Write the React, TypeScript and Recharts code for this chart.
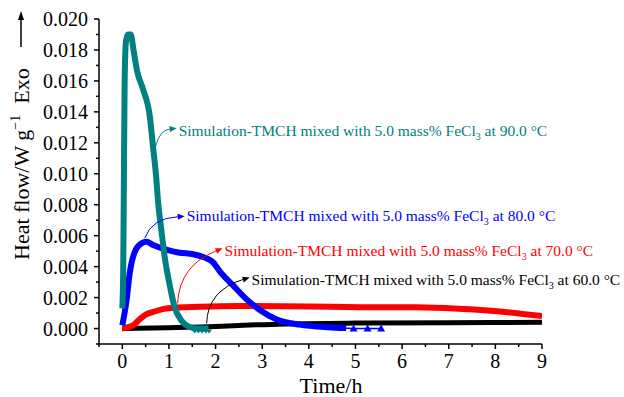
import { LineChart, Line, XAxis, YAxis, ReferenceDot } from 'recharts';

// heat flow (W/g) vs time (h)
const black60 = [
  { t: 0, v: 0 },
  { t: 1, v: 0.00005 },
  { t: 1.7, v: 0.0001 },
  { t: 2.5, v: 0.0002 },
  { t: 3.5, v: 0.0003 },
  { t: 5, v: 0.00035 },
  { t: 7, v: 0.00037 },
  { t: 9, v: 0.0004 },
];

const red70 = [
  { t: 0, v: 0 },
  { t: 0.23, v: 0.0002 },
  { t: 0.37, v: 0.0006 },
  { t: 0.5, v: 0.0009 },
  { t: 0.7, v: 0.0011 },
  { t: 0.94, v: 0.0013 },
  { t: 1.66, v: 0.0014 },
  { t: 2.5, v: 0.00145 },
  { t: 4, v: 0.00142 },
  { t: 5.1, v: 0.00138 },
  { t: 6.3, v: 0.00137 },
  { t: 7.2, v: 0.00128 },
  { t: 8.1, v: 0.0011 },
  { t: 9, v: 0.0008 },
];

const blue80 = [
  { t: 0, v: 0.0002 },
  { t: 0.09, v: 0.0018 },
  { t: 0.16, v: 0.0036 },
  { t: 0.26, v: 0.0049 },
  { t: 0.41, v: 0.0055 },
  { t: 0.52, v: 0.0056 },
  { t: 0.66, v: 0.0054 },
  { t: 0.94, v: 0.0051 },
  { t: 1.23, v: 0.0049 },
  { t: 1.52, v: 0.0048 },
  { t: 1.75, v: 0.0046 },
  { t: 1.94, v: 0.0043 },
  { t: 2.09, v: 0.0037 },
  { t: 2.37, v: 0.0028 },
  { t: 2.66, v: 0.0019 },
  { t: 2.95, v: 0.0012 },
  { t: 3.3, v: 0.0006 },
  { t: 3.8, v: 0.00025 },
  { t: 4.4, v: 0.00008 },
  { t: 4.8, v: 0.00003 },
];

const blueTail = [
  { t: 4.7, v: 0.00003 },
  { t: 4.96, v: 0 },
  { t: 5.26, v: 0 },
  { t: 5.55, v: 0 },
];

const teal90 = [
  { t: 0, v: 0.0013 },
  { t: 0.02, v: 0.004 },
  { t: 0.035, v: 0.01 },
  { t: 0.05, v: 0.016 },
  { t: 0.08, v: 0.0186 },
  { t: 0.12, v: 0.019 },
  { t: 0.18, v: 0.019 },
  { t: 0.24, v: 0.018 },
  { t: 0.32, v: 0.0166 },
  { t: 0.44, v: 0.0155 },
  { t: 0.59, v: 0.0137 },
  { t: 0.66, v: 0.0117 },
  { t: 0.72, v: 0.01 },
  { t: 0.77, v: 0.0081 },
  { t: 0.84, v: 0.0063 },
  { t: 0.91, v: 0.0046 },
  { t: 1.01, v: 0.0029 },
  { t: 1.12, v: 0.0014 },
  { t: 1.27, v: 0.0005 },
  { t: 1.44, v: 0.0001 },
  { t: 1.6, v: 0 },
  { t: 1.85, v: 0 },
];

const tealTail = [
  { t: 1.55, v: 0 },
  { t: 1.63, v: 0 },
  { t: 1.71, v: 0 },
  { t: 1.79, v: 0 },
  { t: 1.86, v: 0 },
];

const xTicks = [-0.5, 0, 0.5, 1, 1.5, 2, 2.5, 3, 3.5, 4, 4.5, 5, 5.5, 6, 6.5, 7, 7.5, 8, 8.5, 9];
const yTicks = [
  -0.001, 0, 0.001, 0.002, 0.003, 0.004, 0.005, 0.006, 0.007, 0.008, 0.009, 0.01,
  0.011, 0.012, 0.013, 0.014, 0.015, 0.016, 0.017, 0.018, 0.019, 0.02,
];

const notes = [
  { temp: '90.0', color: '#008080', t: 1.165, v: 0.01294, tail: [-21, 18], ctrl: [-17, 2], ty: 8 },
  { temp: '80.0', color: '#0000ff', t: 1.337, v: 0.00725, tail: [-40, 22], ctrl: [-33, 2], ty: 5 },
  { temp: '70.0', color: '#ff0000', t: 2.15, v: 0.00518, tail: [-45, 55], ctrl: [-43, 17], ty: 8 },
  { temp: '60.0', color: '#000000', t: 2.73, v: 0.0033, tail: [-43, 46], ctrl: [-42, 13], ty: 8 },
];

const serif = { fontFamily: "'Times New Roman', 'Liberation Serif', Times, serif" };

const XTick = (props: any) => {
  const { x, y, payload } = props;
  const major = Number.isInteger(payload.value);
  return (
    <g>
      <line x1={x} x2={x} y1={y} y2={y + (major ? 5 : 3)} stroke="#000" strokeWidth={1.5} />
      {major && (
        <text x={x} y={y + 24} textAnchor="middle" fontSize={20} style={serif} fill="#000">
          {payload.value}
        </text>
      )}
    </g>
  );
};

const YTick = (props: any) => {
  const { x, y, payload } = props;
  const n = Math.round(payload.value * 1000);
  const major = n >= 0 && n % 2 === 0;
  return (
    <g>
      <line x1={x - (major ? 5 : 3)} x2={x} y1={y} y2={y} stroke="#000" strokeWidth={1.5} />
      {major && (
        <text x={x - 11} y={y + 7} textAnchor="end" fontSize={20} style={serif} fill="#000">
          {payload.value.toFixed(3)}
        </text>
      )}
    </g>
  );
};

const YTitle = (props: any) => {
  const vb = props.viewBox;
  const x = vb.x + 29;
  const y = vb.y + 241;
  return (
    <g transform={`translate(${x},${y}) rotate(-90)`}>
      <text x={0} y={0} fontSize={22} style={serif} fill="#000">
        Heat flow/W g
        <tspan fontSize={14} dy={-9}>−1</tspan>
        <tspan dy={9}>{'\u00a0\u00a0Exo'}</tspan>
      </text>
      <line x1={213} x2={242} y1={-8} y2={-8} stroke="#000" strokeWidth={1.5} />
      <path d="M249,-8 L240,-11 L240,-5 Z" fill="#000" />
    </g>
  );
};

const XTitle = (props: any) => {
  const vb = props.viewBox;
  return (
    <text x={vb.x + 232} y={vb.y + 49} textAnchor="middle" fontSize={22} style={serif} fill="#000">
      Time/h
    </text>
  );
};

const Triangle = (props: any) => {
  const { cx, cy, fill } = props;
  if (cx == null || cy == null) return null;
  return <path d={`M${cx},${cy - 4} L${cx + 4},${cy + 3} L${cx - 4},${cy + 3} Z`} fill={fill} />;
};

const DownTriangle = (props: any) => {
  const { cx, cy, fill } = props;
  if (cx == null || cy == null) return null;
  return <path d={`M${cx - 3},${cy + 1} L${cx + 3},${cy + 1} L${cx},${cy + 5} Z`} fill={fill} />;
};

const noteShape = (n: typeof notes[number]) => (props: any) => {
  const { cx, cy } = props;
  const sx = cx + n.tail[0];
  const sy = cy + n.tail[1];
  const qx = cx + n.ctrl[0];
  const qy = cy + n.ctrl[1];
  const a = Math.atan2(cy - qy, cx - qx);
  const L = 7;
  const W = 3;
  const bx = cx - L * Math.cos(a);
  const by = cy - L * Math.sin(a);
  const p1x = bx + W * Math.sin(a);
  const p1y = by - W * Math.cos(a);
  const p2x = bx - W * Math.sin(a);
  const p2y = by + W * Math.cos(a);
  return (
    <g>
      <path d={`M${sx},${sy} Q${qx},${qy} ${bx},${by}`} fill="none" stroke={n.color} strokeWidth={1} />
      <path d={`M${cx},${cy} L${p1x},${p1y} L${p2x},${p2y} Z`} fill={n.color} />
      <text x={cx + 2} y={cy + n.ty} fontSize={15.5} style={serif} fill={n.color}>
        Simulation-TMCH mixed with 5.0 mass% FeCl
        <tspan fontSize={10} dy={4}>3</tspan>
        <tspan dy={-4}>{` at ${n.temp} °C`}</tspan>
      </text>
    </g>
  );
};

export default function App() {
  return (
    <div style={{ position: 'absolute', left: 0, top: 0, background: '#fff' }}>
      <LineChart width={624} height={397} margin={{ top: 19, right: 82, bottom: 0, left: 0 }}>
        <XAxis
          dataKey="t"
          type="number"
          domain={[-0.5, 9]}
          ticks={xTicks}
          interval={0}
          tickSize={0}
          tickMargin={0}
          tickLine={false}
          tick={<XTick />}
          height={53}
          allowDataOverflow
          axisLine={{ stroke: '#000', strokeWidth: 1.5 }}
          label={{ content: XTitle }}
        />
        <YAxis
          type="number"
          domain={[-0.001, 0.02]}
          ticks={yTicks}
          interval={0}
          tickSize={0}
          tickMargin={0}
          tickLine={false}
          tick={<YTick />}
          width={99}
          allowDataOverflow
          axisLine={{ stroke: '#000', strokeWidth: 1.5 }}
          label={{ content: YTitle }}
        />
        <Line data={black60} dataKey="v" type="monotone" stroke="#000" strokeWidth={5} dot={false} isAnimationActive={false} />
        <Line data={red70} dataKey="v" type="monotone" stroke="#ff0000" strokeWidth={6} dot={false} isAnimationActive={false} />
        <Line data={blueTail} dataKey="v" type="linear" stroke="#0000ff" strokeWidth={1.5} dot={<Triangle fill="#0000ff" />} isAnimationActive={false} />
        <Line data={blue80} dataKey="v" type="monotone" stroke="#0000ff" strokeWidth={6} dot={false} isAnimationActive={false} />
        <Line data={teal90} dataKey="v" type="monotone" stroke="#008080" strokeWidth={6} dot={false} isAnimationActive={false} />
        <Line data={tealTail} dataKey="v" type="linear" stroke="none" dot={<DownTriangle fill="#008080" />} isAnimationActive={false} />
        {notes.map((n) => (
          <ReferenceDot key={n.temp} x={n.t} y={n.v} r={0} shape={noteShape(n)} ifOverflow="visible" />
        ))}
      </LineChart>
    </div>
  );
}
